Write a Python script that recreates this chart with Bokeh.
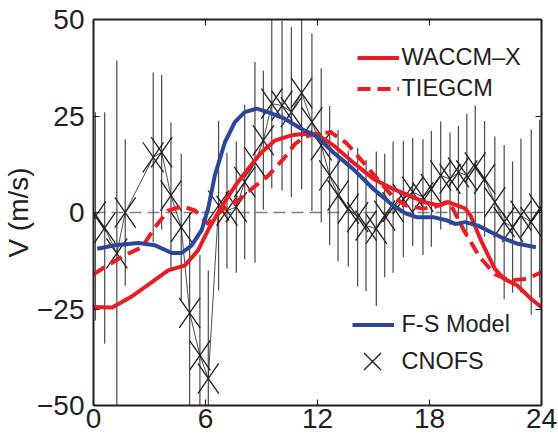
from bokeh.plotting import figure
from bokeh.models import Span, Legend, LegendItem, LinearAxis, FixedTicker
from bokeh.embed import file_html
from bokeh.resources import INLINE

# ---------------- data ----------------
x_ticks = [0, 6, 12, 18, 24]
y_ticks = [-50, -25, 0, 25, 50]
y_tick_labels = ["\u221250", "\u221225", "0", "25", "50"]

# CNOFS observations (local time, drift, error half-width)
cnofs_x = [0.1, 0.6, 1.25, 1.7, 3.2, 3.65, 4.15, 4.7, 5.15, 5.7, 6.15, 6.7,
           7.15, 7.65, 8.1, 8.65, 9.1, 9.55, 10.1, 10.6, 11.15, 11.7, 12.2, 12.65,
           13.1, 13.65, 14.15, 14.6, 15.15, 15.6, 16.05, 16.6, 17.1, 17.65, 18.1, 18.6,
           19.1, 19.55, 20.0, 20.45, 20.95, 21.5, 22.0, 22.45, 22.9, 23.45, 23.9]
cnofs_v = [-1, -4, -10.6, 0, 14.3, 15.6, 4.4, -3.8, -26, -37, -43, 1.8,
           0.5, 1.4, 7.9, 13, 18.7, 28.2, 27.7, 26, 31, 23.4, 17.4, 9.6,
           4.4, 1, -1.2, -3.4, -4.2, -0.8, 1.4, 3.5, 5.3, 4, 6.1, 9.6,
           8.7, 10.4, 9.6, 11.7, 8.7, 2.7, -2.5, -3.8, -0.8, -2.5, 1]
cnofs_err = [27, 30, 50, 19, 22, 20, 19, 19, 26, 26, 28, 22,
             15, 17, 20, 26, 18, 22, 22, 22, 25, 23, 20, 18,
             17, 15, 18, 17, 20, 16, 17, 15, 14, 15, 15, 14,
             12, 12, 16, 16, 15, 17, 20, 17, 20, 24, 23]

# WACCM-X (solid red)
waccm_x = [0, 1, 2, 3, 4, 4.9, 5.6, 6.2, 6.9, 7.6, 8.3, 9.0, 9.7, 10.6, 11.3, 12.0,
           12.85, 13.9, 15.0, 16.05, 17.1, 17.8, 18.5, 19.0, 19.9, 20.2, 20.8, 21.5,
           22.0, 22.7, 23.45, 24]
waccm_v = [-24.5, -24.6, -21.9, -18.5, -15, -13.7, -9.8, -4, 1.8, 7, 11.4, 15.6, 18.6,
           20, 20.4, 20.2, 17.4, 13, 8.7, 6.1, 4, 2.6, 1.8, 2.7, 1.1, -0.8, -7.7, -14.6,
           -17.2, -18.9, -22.4, -24.5]

# TIEGCM (dashed red)
tiegcm_x = [0, 0.65, 1.7, 2.6, 3.3, 4.0, 4.75, 5.45, 6.15, 6.85, 7.7, 8.6, 9.35, 10.2,
            10.8, 11.3, 11.85, 12.7, 13.55, 14.45, 15.35, 16.05, 16.75, 17.65, 18.3,
            18.9, 19.25, 19.85, 20.7, 21.5, 22.3, 23.2, 24]
tiegcm_v = [-16, -14, -11, -9, -3.8, 0.5, 1.6, 0.5, -3, 0.5, 3, 6.6, 9.5, 14, 17.8,
            19.5, 20.4, 20.8, 18, 13, 7.9, 4, 1.8, 1, 1.5, 2.7, 1, -4.7, -11.6, -16,
            -17.6, -17.2, -15.5]

# F-S Model (blue)
fs_x = [0.2, 1.15, 2.4, 3.3, 4.2, 4.72, 5.26, 5.8, 6.15, 6.5, 7.04, 7.57, 8.1, 8.73,
        9.35, 10.24, 11.13, 12.02, 12.84, 13.9, 15.0, 16.04, 16.75, 17.3, 18.2, 18.9,
        19.4, 19.9, 20.6, 21.3, 22.0, 22.73, 23.7]
fs_v = [-9.4, -8.5, -7.9, -8.5, -10.5, -10.5, -8.5, -4.5, 1.2, 9.6, 18.2, 23.4, 26,
        26.9, 26, 24.3, 21.7, 19.5, 15.6, 11.3, 6.1, 1.8, -0.3, -1.2, -1.2, -2, -3,
        -2.5, -3.4, -5.1, -6.8, -8.1, -9]

# ---------------- styles ----------------
FONT = "Liberation Sans"
INK = "#231f20"
RED = "#ec1c24"
BLUE = "#2b479b"
MARK_DX, MARK_DY = 0.56, 3.9   # half-size of the CNOFS "X" marks in axis units

p = figure(width=558, height=440, x_range=(0, 24), y_range=(-50, 50),
           output_backend="svg", toolbar_location=None,
           min_border_left=91, min_border_right=17, min_border_top=19,
           min_border_bottom=35)
p.outline_line_color = None
p.xgrid.visible = False
p.ygrid.visible = False
p.background_fill_color = "white"
p.border_fill_color = "white"


def style_axis(ax, ticks, show_labels):
    ax.ticker = FixedTicker(ticks=ticks)
    ax.major_tick_in = 6
    ax.major_tick_out = 0
    ax.minor_tick_in = 0
    ax.minor_tick_out = 0
    ax.axis_line_width = 2
    ax.axis_line_color = INK
    ax.major_tick_line_color = INK
    ax.major_tick_line_width = 1.2
    ax.major_label_text_font = FONT
    if show_labels:
        ax.major_label_text_color = INK
        ax.major_label_text_font_size = "28px"
    else:
        # tick marks only: labels are not drawn at all
        ax.major_label_text_color = None
        ax.major_label_text_font_size = "1px"
        ax.major_label_standoff = 0


style_axis(p.xaxis[0], x_ticks, True)
p.xaxis[0].major_label_standoff = 3
style_axis(p.yaxis[0], y_ticks, True)
p.yaxis[0].major_label_standoff = 9
p.yaxis[0].major_label_overrides = {t: s for t, s in zip(y_ticks, y_tick_labels)}
p.yaxis[0].axis_label = "V (m/s)"
p.yaxis[0].axis_label_text_font = FONT
p.yaxis[0].axis_label_text_font_size = "28px"
p.yaxis[0].axis_label_text_font_style = "normal"
p.yaxis[0].axis_label_text_color = INK
p.yaxis[0].axis_label_standoff = 0

top_ax = LinearAxis()
style_axis(top_ax, x_ticks, False)
p.add_layout(top_ax, "above")
right_ax = LinearAxis()
style_axis(right_ax, y_ticks, False)
p.add_layout(right_ax, "right")

# zero reference line
p.add_layout(Span(location=0, dimension="width", line_color="#808080",
                  line_width=1.5, line_dash="12 6", level="underlay"))

# CNOFS error bars
lo = [v - e for v, e in zip(cnofs_v, cnofs_err)]
hi = [v + e for v, e in zip(cnofs_v, cnofs_err)]
p.segment(x0=cnofs_x, y0=lo, x1=cnofs_x, y1=hi, line_color="#4a4a4a", line_width=1.2)
# thin connecting line
p.line(cnofs_x, cnofs_v, line_color=INK, line_width=0.8)
# tall "X" marks
p.segment(x0=[x - MARK_DX for x in cnofs_x], y0=[v - MARK_DY for v in cnofs_v],
          x1=[x + MARK_DX for x in cnofs_x], y1=[v + MARK_DY for v in cnofs_v],
          line_color=INK, line_width=1.3)
p.segment(x0=[x - MARK_DX for x in cnofs_x], y0=[v + MARK_DY for v in cnofs_v],
          x1=[x + MARK_DX for x in cnofs_x], y1=[v - MARK_DY for v in cnofs_v],
          line_color=INK, line_width=1.3)
# marker renderer used only for the legend sample
r_c = p.scatter(cnofs_x, cnofs_v, marker="x", size=0, line_color=INK, line_width=1.3)

# model curves
r_t = p.line(tiegcm_x, tiegcm_v, line_color=RED, line_width=4, line_dash="13 7")
r_w = p.line(waccm_x, waccm_v, line_color=RED, line_width=4, line_join="round")
r_f = p.line(fs_x, fs_v, line_color=BLUE, line_width=4, line_join="round")


def make_legend(items, loc, gw, gh, standoff, spacing):
    lg = Legend(items=items, location=loc, glyph_width=gw, glyph_height=gh,
                label_height=gh, label_standoff=standoff, spacing=spacing,
                padding=0, margin=0, border_line_color=None,
                background_fill_alpha=0, label_text_font=FONT,
                label_text_font_size="23.5px", label_text_color=INK)
    p.add_layout(lg)
    return lg


make_legend([LegendItem(label="WACCM\u2013X", renderers=[r_w]),
             LegendItem(label="TIEGCM", renderers=[r_t])],
            (263.5, 303.5), 42, 27, 3, 4)
make_legend([LegendItem(label="F-S Model", renderers=[r_f])],
            (258.5, 67.5), 42, 27, 8, 0)
make_legend([LegendItem(label="CNOFS", renderers=[r_c])],
            (248.5, 14), 60, 60, 0, 0)

open("out.html", "w").write(file_html(p, INLINE))
